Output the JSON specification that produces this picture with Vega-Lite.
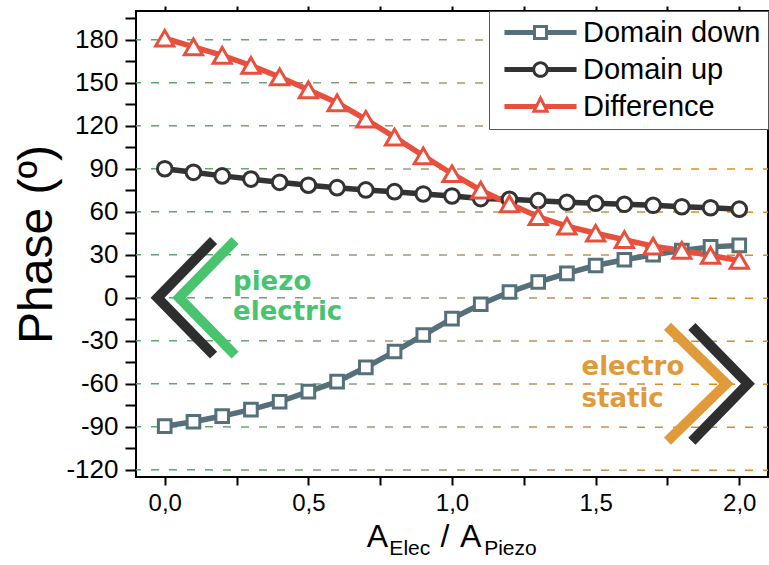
{
  "$schema": "https://vega.github.io/schema/vega-lite/v6.json",
  "width": 632,
  "height": 466,
  "autosize": "none",
  "padding": {"left": 136, "top": 11, "right": 1, "bottom": 88},
  "background": "white",
  "config": {
    "view": {"stroke": "#000000", "strokeWidth": 2},
    "font": "Liberation Sans",
    "legend": {
      "title": null, "orient": "top-right", "offset": 0,
      "fillColor": "white", "strokeColor": "#555555",
      "padding": 7, "rowPadding": 7,
      "labelFontSize": 29, "labelFont": "Liberation Sans", "labelColor": "#000000",
      "labelLimit": 400, "labelOffset": 28, "symbolOffset": 30
    }
  },
  "datasets": {
    "series": [
      {"x": 0, "series": "Domain down", "phase": -89.5},
      {"x": 0.1, "series": "Domain down", "phase": -86.5},
      {"x": 0.2, "series": "Domain down", "phase": -82.5},
      {"x": 0.3, "series": "Domain down", "phase": -78},
      {"x": 0.4, "series": "Domain down", "phase": -72.5},
      {"x": 0.5, "series": "Domain down", "phase": -65.5},
      {"x": 0.6, "series": "Domain down", "phase": -58.5},
      {"x": 0.7, "series": "Domain down", "phase": -48.5},
      {"x": 0.8, "series": "Domain down", "phase": -37.5},
      {"x": 0.9, "series": "Domain down", "phase": -26},
      {"x": 1.0, "series": "Domain down", "phase": -14.5},
      {"x": 1.1, "series": "Domain down", "phase": -4.5},
      {"x": 1.2, "series": "Domain down", "phase": 4},
      {"x": 1.3, "series": "Domain down", "phase": 11},
      {"x": 1.4, "series": "Domain down", "phase": 17},
      {"x": 1.5, "series": "Domain down", "phase": 22.5},
      {"x": 1.6, "series": "Domain down", "phase": 26.5},
      {"x": 1.7, "series": "Domain down", "phase": 30},
      {"x": 1.8, "series": "Domain down", "phase": 33},
      {"x": 1.9, "series": "Domain down", "phase": 35.5},
      {"x": 2.0, "series": "Domain down", "phase": 36.5},
      {"x": 0, "series": "Domain up", "phase": 90},
      {"x": 0.1, "series": "Domain up", "phase": 87.5},
      {"x": 0.2, "series": "Domain up", "phase": 85},
      {"x": 0.3, "series": "Domain up", "phase": 82.8},
      {"x": 0.4, "series": "Domain up", "phase": 80.5},
      {"x": 0.5, "series": "Domain up", "phase": 78.5},
      {"x": 0.6, "series": "Domain up", "phase": 76.8},
      {"x": 0.7, "series": "Domain up", "phase": 75.2},
      {"x": 0.8, "series": "Domain up", "phase": 74},
      {"x": 0.9, "series": "Domain up", "phase": 72.4},
      {"x": 1.0, "series": "Domain up", "phase": 71},
      {"x": 1.1, "series": "Domain up", "phase": 69.2},
      {"x": 1.2, "series": "Domain up", "phase": 68.7},
      {"x": 1.3, "series": "Domain up", "phase": 67.7},
      {"x": 1.4, "series": "Domain up", "phase": 66.6},
      {"x": 1.5, "series": "Domain up", "phase": 65.9},
      {"x": 1.6, "series": "Domain up", "phase": 65.2},
      {"x": 1.7, "series": "Domain up", "phase": 64.5},
      {"x": 1.8, "series": "Domain up", "phase": 63.5},
      {"x": 1.9, "series": "Domain up", "phase": 62.8},
      {"x": 2.0, "series": "Domain up", "phase": 61.8},
      {"x": 0, "series": "Difference", "phase": 181},
      {"x": 0.1, "series": "Difference", "phase": 175},
      {"x": 0.2, "series": "Difference", "phase": 169},
      {"x": 0.3, "series": "Difference", "phase": 162},
      {"x": 0.4, "series": "Difference", "phase": 154},
      {"x": 0.5, "series": "Difference", "phase": 145},
      {"x": 0.6, "series": "Difference", "phase": 136},
      {"x": 0.7, "series": "Difference", "phase": 124.5},
      {"x": 0.8, "series": "Difference", "phase": 112},
      {"x": 0.9, "series": "Difference", "phase": 99},
      {"x": 1.0, "series": "Difference", "phase": 86.5},
      {"x": 1.1, "series": "Difference", "phase": 75},
      {"x": 1.2, "series": "Difference", "phase": 65.5},
      {"x": 1.3, "series": "Difference", "phase": 56.5},
      {"x": 1.4, "series": "Difference", "phase": 50},
      {"x": 1.5, "series": "Difference", "phase": 45},
      {"x": 1.6, "series": "Difference", "phase": 40.5},
      {"x": 1.7, "series": "Difference", "phase": 36},
      {"x": 1.8, "series": "Difference", "phase": 33},
      {"x": 1.9, "series": "Difference", "phase": 29.5},
      {"x": 2.0, "series": "Difference", "phase": 26}
    ],
    "grid": [
      {"g": -120}, {"g": -90}, {"g": -60}, {"g": -30}, {"g": 0}, {"g": 30},
      {"g": 60}, {"g": 90}, {"g": 120}, {"g": 150}, {"g": 180}
    ],
    "chevrons": [
      {"g": "piezo_black", "i": 0, "x": 0.17, "y": 40},
      {"g": "piezo_black", "i": 1, "x": -0.025, "y": 0},
      {"g": "piezo_black", "i": 2, "x": 0.17, "y": -40},
      {"g": "piezo_green", "i": 0, "x": 0.245, "y": 40},
      {"g": "piezo_green", "i": 1, "x": 0.05, "y": 0},
      {"g": "piezo_green", "i": 2, "x": 0.245, "y": -40},
      {"g": "electro_orange", "i": 0, "x": 1.75, "y": -20},
      {"g": "electro_orange", "i": 1, "x": 1.955, "y": -60},
      {"g": "electro_orange", "i": 2, "x": 1.75, "y": -100},
      {"g": "electro_black", "i": 0, "x": 1.835, "y": -20},
      {"g": "electro_black", "i": 1, "x": 2.03, "y": -60},
      {"g": "electro_black", "i": 2, "x": 1.835, "y": -100}
    ],
    "notes": [
      {"group": "piezo", "text": "piezo", "x": 0.238, "y": 5.4},
      {"group": "piezo", "text": "electric", "x": 0.238, "y": -15.5},
      {"group": "electro", "text": "electro", "x": 1.451, "y": -53.9},
      {"group": "electro", "text": "static", "x": 1.451, "y": -76}
    ],
    "xtitle": [
      {"kind": "main", "text": "A", "x": 0.703, "y": -173.8},
      {"kind": "sub", "text": "Elec", "x": 0.782, "y": -179.4},
      {"kind": "main", "text": "/", "x": 0.96, "y": -173.8},
      {"kind": "main", "text": "A", "x": 1.028, "y": -173.8},
      {"kind": "sub", "text": "Piezo", "x": 1.112, "y": -179.4}
    ]
  },
  "layer": [
    {
      "data": {"name": "grid"},
      "mark": {
        "type": "rule",
        "stroke": {
          "gradient": "linear", "x1": 0, "y1": 0, "x2": 1, "y2": 0,
          "stops": [
            {"offset": 0, "color": "#52a86e"},
            {"offset": 0.45, "color": "#a09684"},
            {"offset": 1, "color": "#e38a14"}
          ]
        },
        "strokeWidth": 1.5,
        "strokeDash": [8, 10],
        "strokeDashOffset": 3,
        "y2Offset": 0.4
      },
      "encoding": {
        "x": {
          "datum": -0.1, "type": "quantitative",
          "scale": {"domain": [-0.1, 2.1], "nice": false, "zero": false},
          "axis": {
            "orient": "top", "values": [0, 0.25, 0.5, 0.75, 1, 1.25, 1.5, 1.75, 2],
            "labels": false, "domain": false, "grid": false, "title": null,
            "tickColor": "#000000", "tickWidth": 2, "tickSize": 5,
            "encode": {"ticks": {"update": {"y2": {"value": 5}}}}
          }
        },
        "x2": {"datum": 2.1},
        "y": {
          "field": "g", "type": "quantitative",
          "scale": {"domain": [-125, 200], "nice": false, "zero": false},
          "axis": {
            "orient": "right",
            "values": [-120, -105, -90, -75, -60, -45, -30, -15, 0, 15, 30, 45, 60, 75, 90, 105, 120, 135, 150, 165, 180, 195],
            "labels": false, "domain": false, "grid": false, "title": null,
            "tickColor": "#000000", "tickWidth": 2, "tickSize": 8,
            "encode": {"ticks": {"update": {"x2": {"signal": "datum.value % 30 === 0 ? -8 : -5"}}}}
          }
        },
        "y2": {"field": "g"}
      }
    },
    {
      "data": {"name": "series"},
      "mark": {"type": "line", "strokeWidth": 5.5},
      "encoding": {
        "x": {
          "field": "x", "type": "quantitative",
          "axis": {
            "orient": "bottom", "values": [0, 0.25, 0.5, 0.75, 1, 1.25, 1.5, 1.75, 2],
            "labelExpr": "datum.value % 0.5 === 0 ? replace(format(datum.value, '.1f'), '.', ',') : ''",
            "labelFontSize": 24, "labelFont": "Liberation Sans", "labelColor": "#000000",
            "labelPadding": 6, "labelOverlap": false, "labelFlush": false,
            "domain": false, "grid": false, "title": null,
            "tickColor": "#000000", "tickWidth": 2, "tickSize": 8,
            "encode": {"ticks": {"update": {"y2": {"signal": "datum.value % 0.5 === 0 ? 8 : 4"}}}}
          }
        },
        "y": {
          "field": "phase", "type": "quantitative",
          "axis": {
            "orient": "left",
            "values": [-120, -105, -90, -75, -60, -45, -30, -15, 0, 15, 30, 45, 60, 75, 90, 105, 120, 135, 150, 165, 180, 195],
            "labelExpr": "datum.value % 30 === 0 ? '' + datum.value : ''",
            "labelFontSize": 26, "labelFont": "Liberation Sans", "labelColor": "#000000",
            "labelPadding": 7, "labelOverlap": false, "labelFlush": false,
            "domain": false, "grid": false,
            "title": "Phase (º)", "titleFontSize": 48, "titleFont": "Liberation Sans",
            "titleFontWeight": "normal", "titleColor": "#000000", "titlePadding": 4,
            "tickColor": "#000000", "tickWidth": 2, "tickSize": 11,
            "encode": {"ticks": {"update": {
              "x": {"signal": "datum.value % 30 === 0 ? 9 : 0"},
              "x2": {"signal": "datum.value % 30 === 0 ? -11 : -6"}
            }}}
          }
        },
        "color": {
          "field": "series", "type": "nominal",
          "scale": {"domain": ["Domain down", "Domain up", "Difference"], "range": ["#56707a", "#333333", "#e8503e"]},
          "legend": {
            "encode": {"symbols": {"update": {
              "shape": {"signal": "datum.value === 'Domain down' ? 'M-5.15,-0.36H-1.07V0.36H-5.15Z M1.07,-0.36H5.15V0.36H1.07Z M-1.07,-1.07H1.07V1.07H-1.07Z M-0.64,-0.64V0.64H0.64V-0.64Z' : datum.value === 'Domain up' ? 'M-5.15,-0.36H-1V0.36H-5.15Z M1,-0.36H5.15V0.36H1Z M-1.19,0A1.19,1.19 0 1,1 1.19,0A1.19,1.19 0 1,1 -1.19,0Z M-0.76,0A0.76,0.76 0 1,0 0.76,0A0.76,0.76 0 1,0 -0.76,0Z' : 'M-5.15,-0.36H-0.66V0.36H-5.15Z M0.66,-0.36H5.15V0.36H0.66Z M0,-1.67L1.29,0.9H-1.29Z M0,-0.73L-0.6,0.47H0.6Z'"},
              "fill": {"signal": "scale('color', datum.value)"},
              "strokeWidth": {"value": 0},
              "size": {"value": 196},
              "opacity": {"value": 1}
            }}}
          }
        }
      }
    },
    {
      "data": {"name": "series"},
      "transform": [{"filter": "datum.series === 'Domain down'"}],
      "mark": {"type": "point", "shape": "square", "size": 160, "color": "#56707a", "filled": false, "fill": "white", "opacity": 1, "strokeWidth": 3},
      "encoding": {
        "x": {"field": "x", "type": "quantitative", "axis": null},
        "y": {"field": "phase", "type": "quantitative", "axis": null}
      }
    },
    {
      "data": {"name": "series"},
      "transform": [{"filter": "datum.series === 'Domain up'"}],
      "mark": {"type": "point", "shape": "circle", "size": 215, "color": "#333333", "filled": false, "fill": "white", "opacity": 1, "strokeWidth": 3},
      "encoding": {
        "x": {"field": "x", "type": "quantitative", "axis": null},
        "y": {"field": "phase", "type": "quantitative", "axis": null}
      }
    },
    {
      "data": {"name": "series"},
      "transform": [{"filter": "datum.series === 'Difference'"}],
      "mark": {"type": "point", "shape": "triangle-up", "size": 330, "color": "#e8503e", "filled": false, "fill": "white", "opacity": 1, "strokeWidth": 3},
      "encoding": {
        "x": {"field": "x", "type": "quantitative", "axis": null},
        "y": {"field": "phase", "type": "quantitative", "axis": null}
      }
    },
    {
      "data": {"name": "chevrons"},
      "transform": [{"filter": "datum.g === 'piezo_black' || datum.g === 'electro_black'"}],
      "mark": {"type": "line", "color": "#2e2e2e", "strokeWidth": 10, "strokeCap": "butt", "strokeJoin": "miter"},
      "encoding": {
        "x": {"field": "x", "type": "quantitative", "axis": null},
        "y": {"field": "y", "type": "quantitative", "axis": null},
        "detail": {"field": "g"},
        "order": {"field": "i"}
      }
    },
    {
      "data": {"name": "chevrons"},
      "transform": [{"filter": "datum.g === 'piezo_green'"}],
      "mark": {"type": "line", "color": "#48c46e", "strokeWidth": 10, "strokeCap": "butt", "strokeJoin": "miter"},
      "encoding": {
        "x": {"field": "x", "type": "quantitative", "axis": null},
        "y": {"field": "y", "type": "quantitative", "axis": null},
        "order": {"field": "i"}
      }
    },
    {
      "data": {"name": "chevrons"},
      "transform": [{"filter": "datum.g === 'electro_orange'"}],
      "mark": {"type": "line", "color": "#e09a3a", "strokeWidth": 10, "strokeCap": "butt", "strokeJoin": "miter"},
      "encoding": {
        "x": {"field": "x", "type": "quantitative", "axis": null},
        "y": {"field": "y", "type": "quantitative", "axis": null},
        "order": {"field": "i"}
      }
    },
    {
      "data": {"name": "notes"},
      "transform": [{"filter": "datum.group === 'piezo'"}],
      "mark": {"type": "text", "align": "left", "baseline": "alphabetic", "font": "DejaVu Sans", "fontWeight": "bold", "fontSize": 26, "color": "#48c46e"},
      "encoding": {
        "x": {"field": "x", "type": "quantitative", "axis": null},
        "y": {"field": "y", "type": "quantitative", "axis": null},
        "text": {"field": "text"}
      }
    },
    {
      "data": {"name": "notes"},
      "transform": [{"filter": "datum.group === 'electro'"}],
      "mark": {"type": "text", "align": "left", "baseline": "alphabetic", "font": "DejaVu Sans", "fontWeight": "bold", "fontSize": 26, "color": "#e09a3a"},
      "encoding": {
        "x": {"field": "x", "type": "quantitative", "axis": null},
        "y": {"field": "y", "type": "quantitative", "axis": null},
        "text": {"field": "text"}
      }
    },
    {
      "data": {"name": "xtitle"},
      "transform": [{"filter": "datum.kind === 'main'"}],
      "mark": {"type": "text", "align": "left", "baseline": "alphabetic", "font": "Liberation Sans", "fontSize": 32, "color": "#000000"},
      "encoding": {
        "x": {"field": "x", "type": "quantitative", "axis": null},
        "y": {"field": "y", "type": "quantitative", "axis": null},
        "text": {"field": "text"}
      }
    },
    {
      "data": {"name": "xtitle"},
      "transform": [{"filter": "datum.kind === 'sub'"}],
      "mark": {"type": "text", "align": "left", "baseline": "alphabetic", "font": "Liberation Sans", "fontSize": 21, "color": "#000000"},
      "encoding": {
        "x": {"field": "x", "type": "quantitative", "axis": null},
        "y": {"field": "y", "type": "quantitative", "axis": null},
        "text": {"field": "text"}
      }
    }
  ],
  "resolve": {"axis": {"x": "independent", "y": "independent"}}
}
